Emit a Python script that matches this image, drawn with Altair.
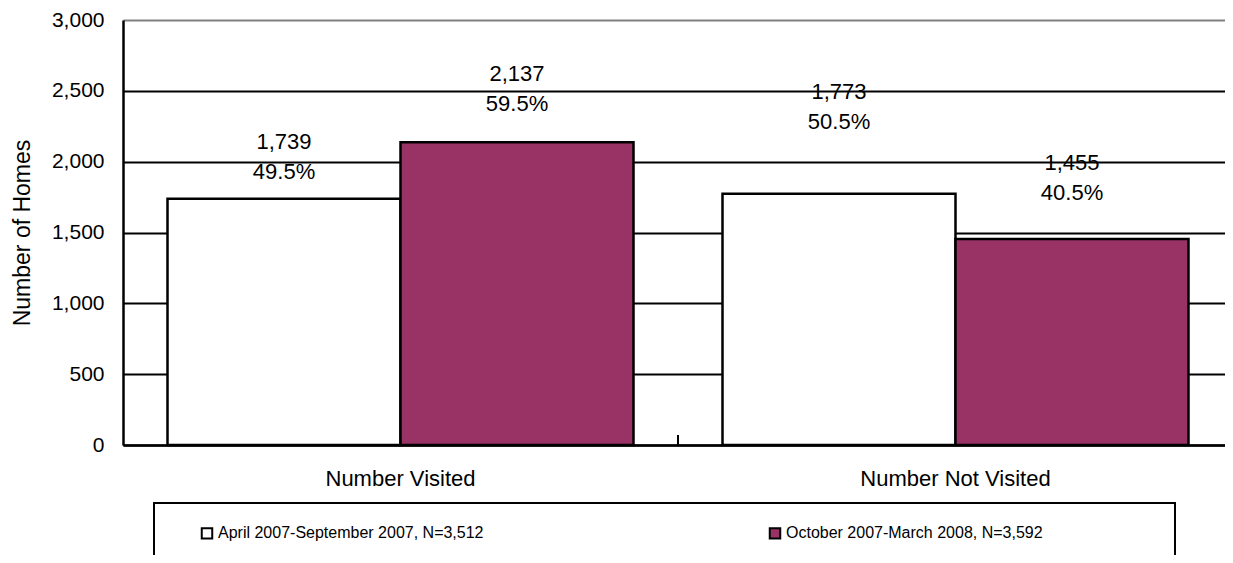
import altair as alt
import pandas as pd

# ---- data ----
categories = ["Number Visited", "Number Not Visited"]
series = ["April 2007-September 2007, N=3,512", "October 2007-March 2008, N=3,592"]
homes_apr_sep = [1739, 1773]
homes_oct_mar = [2137, 1455]
pct_apr_sep = [49.5, 50.5]
pct_oct_mar = [59.5, 40.5]
y_ticks = [0, 500, 1000, 1500, 2000, 2500, 3000]

# hand-placed label heights above each bar (data units), as in the original
label_lift = {
    (categories[0], series[0]): 402,
    (categories[0], series[1]): 480,
    (categories[1], series[0]): 720,
    (categories[1], series[1]): 537,
}

rows = []
for i, cat in enumerate(categories):
    for s, vals, pcts in [(series[0], homes_apr_sep, pct_apr_sep), (series[1], homes_oct_mar, pct_oct_mar)]:
        v = vals[i]
        rows.append({
            "category": cat,
            "series": s,
            "homes": v,
            "count_label": f"{v:,}",
            "pct_label": f"{pcts[i]:.1f}%",
            "label_y": v + label_lift[(cat, s)],
        })
df = pd.DataFrame(rows)

FONT = "Liberation Sans"

y_axis = alt.Axis(
    values=y_ticks, format=",d", ticks=False, labelPadding=19,
    labelFontSize=21, labelColor="black", labelFont=FONT,
    title="Number of Homes", titleFontSize=23, titleFontWeight="normal",
    titleColor="black", titleFont=FONT, titlePadding=17,
    grid=True, gridWidth=2,
    gridColor=alt.condition("datum.value == 3000", alt.value("#808080"), alt.value("black")),
    domainColor="black", domainWidth=2.5,
)
y_scale = alt.Scale(domain=[0, 3000], nice=False)

x_axis = alt.Axis(
    title=None, ticks=False, labelAngle=0, labelPadding=23, labelLimit=1000,
    labelFontSize=22, labelColor="black", labelFont=FONT,
    domainColor="black", domainWidth=2.5, grid=False,
)
x_scale = alt.Scale(paddingInner=0, paddingOuter=0, range=[0, 1110])


def X(**kw):
    return alt.X("category:N", sort=categories, scale=x_scale, axis=x_axis, **kw)


xoff = alt.XOffset("series:N", sort=series, scale=alt.Scale(paddingOuter=0.191, paddingInner=0))

color = alt.Color(
    "series:N", sort=series,
    scale=alt.Scale(domain=series, range=["#FFFFFF", "#993366"]),
    legend=alt.Legend(
        title=None, orient="none", direction="horizontal",
        legendX=76, legendY=505, labelLimit=1000,
        symbolType="square", symbolSize=110, symbolStrokeColor="black",
        symbolStrokeWidth=2, symbolOpacity=1,
        labelFontSize=16, labelFont=FONT, labelColor="black", labelOffset=3,
        columnPadding=281, padding=0,
    ),
)

bars = alt.Chart(df).mark_bar(stroke="black", strokeWidth=2.5, opacity=1).encode(
    x=X(),
    xOffset=xoff,
    y=alt.Y("homes:Q", scale=y_scale, axis=y_axis),
    color=color,
)

count_text = alt.Chart(df).mark_text(
    baseline="middle", align="center", fontSize=22, font=FONT, color="black"
).encode(
    x=X(), xOffset=xoff,
    y=alt.Y("label_y:Q", scale=y_scale, axis=y_axis),
    text="count_label:N",
)

pct_text = alt.Chart(df).mark_text(
    baseline="middle", align="center", fontSize=22, font=FONT, color="black", dy=30
).encode(
    x=X(), xOffset=xoff,
    y=alt.Y("label_y:Q", scale=y_scale, axis=y_axis),
    text="pct_label:N",
)

# inward category-boundary tick on the x axis
tick_df = pd.DataFrame({"category": [categories[1]], "y0": [0], "y1": [70]})
cat_tick = alt.Chart(tick_df).mark_rule(color="black", strokeWidth=2).encode(
    x=X(bandPosition=0),
    y=alt.Y("y0:Q", scale=y_scale, axis=y_axis),
    y2="y1:Q",
)

# legend frame
frame = alt.Chart(pd.DataFrame({"k": [0]})).mark_rect(
    fill="white", fillOpacity=0, stroke="black", strokeWidth=2
).encode(
    x=alt.value(31), x2=alt.value(1052), y=alt.value(483), y2=alt.value(640)
)

chart = alt.layer(bars, cat_tick, count_text, pct_text, frame).properties(
    width=1102, height=425,
    autosize=alt.AutoSizeParams(type="none"),
    padding={"left": 115, "top": 12, "right": 0, "bottom": 110},
    background="white",
).configure_view(strokeOpacity=0)

chart.save("out.html", embed_options={"renderer": "svg", "actions": False})
